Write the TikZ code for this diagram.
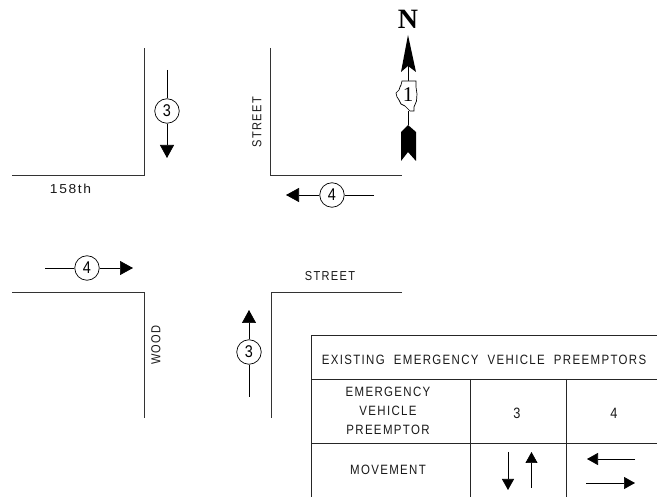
\documentclass[tikz,border=0pt]{standalone}
\usepackage{fontspec}
\newfontfamily\cad[LetterSpace=10,FakeStretch=0.85,WordSpace=2]{Liberation Sans}
\usetikzlibrary{arrows.meta}
\tikzset{
 road/.style={draw=black!80,line width=0.9pt},
 gridline/.style={draw=black!85,line width=0.9pt},
 mv/.style={draw=black,line width=0.7pt,-{Triangle[length=13pt,width=14pt]}},
 mvs/.style={draw=black,line width=0.7pt,-{Triangle[length=11pt,width=12pt]}},
 plain/.style={draw=black,line width=0.7pt},
 phase/.style={circle,draw=black,line width=0.7pt,fill=white,minimum size=24.5pt,inner sep=0pt,font=\cad\fontsize{17}{17}\selectfont},
 lab/.style={inner sep=0pt,font=\cad\fontsize{13}{13}\selectfont,text=black!90},
 cell/.style={inner sep=0pt,font=\cad\fontsize{13.5}{13.5}\selectfont,text=black!90},
 digit/.style={inner sep=0pt,font=\cad\fontsize{15}{15}\selectfont,text=black!90}
}
\begin{document}
\begin{tikzpicture}[x=1pt,y=-1pt]
\useasboundingbox (0,0) rectangle (657,497);
% roads
\draw[road] (12,175) -- (144,175) -- (144,48);
\draw[road] (270,48) -- (270,175) -- (402,175);
\draw[road] (12,292) -- (144,292) -- (144,418);
\draw[road] (402,292) -- (271,292) -- (271,418);
% road labels
\node[lab] (l158) at (70.5,189) {\scalebox{1.25}[1]{158th}};
\node[lab,rotate=90] (lst1) at (257,122) {STREET};
\node[lab] (lst2) at (330,276) {STREET};
\node[lab,rotate=90] (lwood) at (156,345) {WOOD};
% movements
\node[phase] (p3a) at (167,111) {3};
\coordinate (p3at) at (167,70);
\coordinate (p3ah) at (167,158);
\draw[plain] (p3at) -- (p3a);
\draw[mv] (p3a) -- (p3ah);
\node[phase] (p4a) at (332,195) {4};
\coordinate (p4at) at (374,195);
\coordinate (p4ah) at (286,195);
\draw[plain] (p4at) -- (p4a);
\draw[mv] (p4a) -- (p4ah);
\node[phase] (p4b) at (87,268) {4};
\coordinate (p4bt) at (45,268);
\coordinate (p4bh) at (133,268);
\draw[plain] (p4bt) -- (p4b);
\draw[mv] (p4b) -- (p4bh);
\node[phase] (p3b) at (249,352) {3};
\coordinate (p3bt) at (249,397);
\coordinate (p3bh) at (249,310);
\draw[plain] (p3bt) -- (p3b);
\draw[mv] (p3b) -- (p3bh);
% north arrow
\node[inner sep=0pt,font=\fontspec{Liberation Serif}\bfseries\fontsize{28}{28}\selectfont] (north) at (408,19) {N};
\fill (408,35) -- (416,72) -- (408,66) -- (401,72) -- cycle;
\draw[line width=0.8pt] (408,66) -- (408,81);
\draw[line width=0.7pt,fill=white] (402,81) -- (416,81) -- (416,87) -- (417,94) -- (416.5,101) -- (414,107) -- (414,111) -- (410,111) -- (407,108) -- (405,106) -- (401,104) -- (399,100) -- (397,97) -- (396,93) -- (399,90) -- (400,87) -- (401,85) -- cycle;
\node[inner sep=0pt,font=\fontspec{Liberation Serif}\fontsize{21}{21}\selectfont] (shield) at (408,94.5) {1};
\draw[line width=0.8pt] (408,111) -- (408,125);
\fill (408,125) -- (416,132) -- (416,161) -- (408,152) -- (401,161) -- (401,132) -- cycle;
% table
\draw[gridline] (657,335) -- (311,335) -- (311,497);
\draw[gridline] (311,379) -- (657,379);
\draw[gridline] (311,443) -- (657,443);
\draw[gridline] (470,379) -- (470,497);
\draw[gridline] (566,379) -- (566,497);
\node[cell] (title) at (484,360) {EXISTING EMERGENCY VEHICLE PREEMPTORS};
\node[cell] (c1) at (388,392) {EMERGENCY};
\node[cell] (c2) at (388,411) {VEHICLE};
\node[cell] (c3) at (388,430) {PREEMPTOR};
\node[cell] (c4) at (388,470) {MOVEMENT};
\node[digit] (c5) at (517,413) {3};
\node[digit] (c6) at (614,413) {4};
\coordinate (d1) at (508,452); \coordinate (d2) at (508,490);
\coordinate (u1) at (531.5,488); \coordinate (u2) at (531.5,452);
\coordinate (w1) at (635,459); \coordinate (w2) at (587,459);
\coordinate (e1) at (586,483); \coordinate (e2) at (635,483);
\draw[mvs] (d1) -- (d2);
\draw[mvs] (u1) -- (u2);
\draw[mvs] (w1) -- (w2);
\draw[mvs] (e1) -- (e2);
\end{tikzpicture}
\end{document}
